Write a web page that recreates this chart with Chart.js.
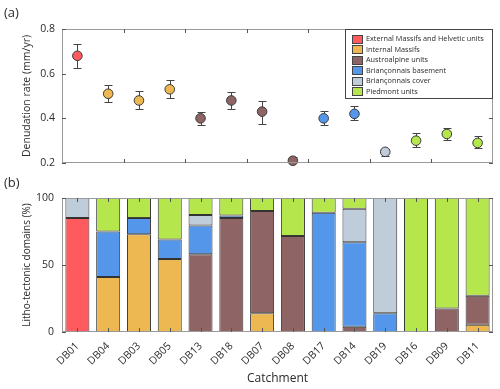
<!DOCTYPE html>
<html><head><meta charset="utf-8">
<script src="https://cdn.jsdelivr.net/npm/chart.js@4.4.0/dist/chart.umd.min.js"></script>
<style>
html,body{margin:0;padding:0;background:#fff;}
#wrap{position:relative;width:500px;height:389px;overflow:hidden;}
.box{position:absolute;left:0;width:500px;}
</style></head><body>
<div id="wrap">
<div class="box" style="top:0;height:180px"><canvas id="c1" width="500" height="180"></canvas></div>
<div class="box" style="top:170px;height:219px"><canvas id="c2" width="500" height="219"></canvas></div>
</div>
<script>
// ---------- data ----------
const catchments = ['DB01','DB04','DB03','DB05','DB13','DB18','DB07','DB08','DB17','DB14','DB19','DB16','DB09','DB11'];
const unitNames = ['External Massifs and Helvetic units','Internal Massifs','Austroalpine units','Briançonnais basement','Briançonnais cover','Piedmont units'];
const unitColors = ['#FF5B5E','#EDB851','#8E6564','#5497EA','#BECDD9','#B5E64B'];
// unit index of each catchment's point (top panel)
const pointUnit = [0,1,1,1,2,2,2,2,3,3,4,5,5,5];
const rate     = [0.68,0.51,0.48,0.53,0.40,0.48,0.43,0.21,0.40,0.42,0.25,0.30,0.33,0.29];
const rateLow  = [0.625,0.473,0.442,0.493,0.368,0.443,0.375,0.195,0.370,0.391,0.231,0.273,0.304,0.269];
const rateHigh = [0.734,0.549,0.522,0.572,0.427,0.518,0.478,0.227,0.434,0.453,0.264,0.334,0.358,0.319];
const rateTicks = [0.2,0.4,0.6,0.8];
// litho-tectonic domain percentages (bottom panel)
const pctExternal = [85,0,0,0,0,0,0,0,0,0,0,0,0,0];
const pctInternal = [0,41,73,54.5,0,0,14,0,0,0,0,0,0,5.5];
const pctAustro   = [0,0,0,0,58,85,76.3,71.6,0,4,0,0,17.6,21.5];
const pctBasement = [0,34,12,14.5,21.5,2,0,0,89,63,14,0,0,0];
const pctCover    = [15,0,0,0,7.8,0,0,0,0,25,86,0,0,0];
const pctPiedmont = [0,25,15,31,12.7,13,9.7,28.4,11,8,0,100,82.4,73];
const pctSeries = [pctExternal,pctInternal,pctAustro,pctBasement,pctCover,pctPiedmont];
const pctTicks = [0,50,100];

const FONT = "'Open Sans', 'DejaVu Sans', sans-serif";
const TXT = '#2b2b2b';
const FRAME = '#9a9a9a';
const TICKC = '#555';

// ---------- shared plugins ----------
const framePlugin = {
  id: 'frame',
  afterDatasetsDraw(chart, args, opts) {
    const {ctx, chartArea: a} = chart;
    ctx.save();
    ctx.strokeStyle = FRAME; ctx.lineWidth = 1;
    ctx.strokeRect(Math.round(a.left)+0.5, Math.round(a.top)+0.5, Math.round(a.right-a.left)-1, Math.round(a.bottom-a.top)-1);
    ctx.strokeStyle = TICKC;
    ctx.beginPath();
    const xs = chart.scales.x, ys = chart.scales.y;
    (opts.xTicks || []).forEach(v => {
      const px = Math.round(xs.getPixelForValue(v)) + 0.5;
      ctx.moveTo(px, a.top); ctx.lineTo(px, a.top + 4);
      ctx.moveTo(px, a.bottom); ctx.lineTo(px, a.bottom - 4);
    });
    (opts.yTicks || []).forEach(v => {
      const py = Math.round(ys.getPixelForValue(v)) + 0.5;
      ctx.moveTo(a.left, py); ctx.lineTo(a.left + 4, py);
      ctx.moveTo(a.right, py); ctx.lineTo(a.right - 4, py);
    });
    ctx.stroke();
    ctx.restore();
  },
  afterDraw(chart, args, opts) {
    const {ctx, chartArea: a} = chart;
    ctx.save();
    ctx.fillStyle = TXT;
    if (opts.panel) {
      ctx.font = '13px ' + FONT;
      ctx.textAlign = 'left'; ctx.textBaseline = 'middle';
      ctx.fillText(opts.panel, 4, opts.panelY);
    }
    if (opts.yTitle) {
      ctx.font = opts.yTitleSize + 'px ' + FONT;
      ctx.translate(27, (a.top + a.bottom) / 2);
      ctx.rotate(-Math.PI / 2);
      ctx.textAlign = 'center'; ctx.textBaseline = 'middle';
      ctx.fillText(opts.yTitle, 0, 0);
    }
    ctx.restore();
    if (opts.xTitle) {
      ctx.save();
      ctx.fillStyle = TXT;
      ctx.font = '12px ' + FONT;
      ctx.textAlign = 'center'; ctx.textBaseline = 'middle';
      ctx.fillText(opts.xTitle, (a.left + a.right) / 2, opts.xTitleY);
      ctx.restore();
    }
  }
};

// error bars
const errorBarPlugin = {
  id: 'errbars',
  beforeDatasetsDraw(chart) {
    const {ctx, chartArea: a} = chart;
    const xs = chart.scales.x, ys = chart.scales.y;
    ctx.save();
    ctx.beginPath(); ctx.rect(a.left, a.top, a.right - a.left, a.bottom - a.top); ctx.clip();
    ctx.strokeStyle = '#444'; ctx.lineWidth = 1;
    ctx.beginPath();
    rate.forEach((v, i) => {
      const px = Math.round(xs.getPixelForValue(i + 0.5)) + 0.5;
      const y1 = Math.round(ys.getPixelForValue(rateLow[i])) + 0.5;
      const y2 = Math.round(ys.getPixelForValue(rateHigh[i])) + 0.5;
      ctx.moveTo(px, y1); ctx.lineTo(px, y2);
      ctx.moveTo(px - 4, y1); ctx.lineTo(px + 4, y1);
      ctx.moveTo(px - 4, y2); ctx.lineTo(px + 4, y2);
    });
    ctx.stroke();
    ctx.restore();
  }
};

// legend inside top panel
const boxLegendPlugin = {
  id: 'boxLegend',
  afterDraw(chart) {
    const {ctx, chartArea: a} = chart;
    const x0 = 345, x1 = Math.round(a.right), y0 = Math.round(a.top), y1 = 98;
    ctx.save();
    ctx.fillStyle = '#fff';
    ctx.fillRect(x0, y0, x1 - x0, y1 - y0);
    ctx.strokeStyle = '#444'; ctx.lineWidth = 1;
    ctx.strokeRect(x0 + 0.5, y0 + 0.5, x1 - x0 - 1, y1 - y0);
    ctx.font = '7.3px ' + FONT;
    ctx.textAlign = 'left'; ctx.textBaseline = 'middle';
    unitNames.forEach((n, i) => {
      const cy = 38.5 + i * 10.5;
      ctx.fillStyle = unitColors[i];
      ctx.fillRect(352.5, Math.round(cy) - 3.5, 10, 8);
      ctx.strokeStyle = '#444';
      ctx.strokeRect(352.5, Math.round(cy) - 3.5, 10, 8);
      ctx.fillStyle = TXT;
      ctx.fillText(n, 366, cy + 0.5);
    });
    ctx.restore();
  }
};

// ---------- top chart ----------
new Chart(document.getElementById('c1'), {
  type: 'scatter',
  data: {
    datasets: [{
      data: rate.map((v, i) => ({x: i + 0.5, y: v})),
      pointBackgroundColor: pointUnit.map(u => unitColors[u]),
      pointBorderColor: '#3a3a3a',
      pointBorderWidth: 1,
      pointRadius: 4.8,
      showLine: false,
      clip: 8
    }]
  },
  options: {
    responsive: false, animation: false,
    layout: {autoPadding: false, padding: {top: 29, right: 7, bottom: 17, left: 0}},
    plugins: {
      legend: {display: false}, tooltip: {enabled: false},
      frame: {xTicks: [2,4,6,8,10,12], yTicks: rateTicks, panel: '(a)', panelY: 13,
              yTitle: 'Denudation rate (mm/yr)', yTitleSize: 10.5}
    },
    scales: {
      x: {type: 'linear', min: 0, max: catchments.length, display: false},
      y: {
        min: 0.2, max: 0.8,
        afterBuildTicks: s => { s.ticks = rateTicks.map(v => ({value: v})); },
        ticks: {color: TXT, font: {family: FONT, size: 10.5}, padding: 7, callback: v => v.toFixed(1)},
        grid: {display: false, drawTicks: false},
        border: {display: false},
        afterFit: s => { s.width = 62; }
      }
    }
  },
  plugins: [errorBarPlugin, framePlugin, boxLegendPlugin]
});

// ---------- bottom chart ----------
new Chart(document.getElementById('c2'), {
  type: 'bar',
  data: {
    labels: catchments,
    datasets: pctSeries.map((arr, k) => ({
      label: unitNames[k],
      data: arr.map(v => v > 0 ? v : null),
      backgroundColor: unitColors[k],
      borderColor: '#333',
      borderWidth: 1,
      borderSkipped: false,
      barPercentage: 0.78,
      categoryPercentage: 1
    }))
  },
  options: {
    responsive: false, animation: false,
    layout: {autoPadding: false, padding: {top: 28, right: 7, bottom: 0, left: 0}},
    plugins: {
      legend: {display: false}, tooltip: {enabled: false},
      frame: {xTicks: catchments.map((c, i) => i), yTicks: pctTicks, panel: '(b)', panelY: 13,
              yTitle: 'Litho-tectonic domains (%)', yTitleSize: 10, xTitle: 'Catchment', xTitleY: 209}
    },
    scales: {
      x: {
        stacked: true,
        ticks: {color: TXT, font: {family: FONT, size: 10.5}, minRotation: 45, maxRotation: 45, padding: 8, autoSkip: false},
        grid: {display: false, drawTicks: false},
        border: {display: false},
        afterFit: s => { s.height = 57; }
      },
      y: {
        stacked: true, min: 0, max: 100,
        afterBuildTicks: s => { s.ticks = pctTicks.map(v => ({value: v})); },
        ticks: {color: TXT, font: {family: FONT, size: 10.5}, padding: 8},
        grid: {display: false, drawTicks: false},
        border: {display: false},
        afterFit: s => { s.width = 62; }
      }
    }
  },
  plugins: [framePlugin]
});
</script>
</body></html>
